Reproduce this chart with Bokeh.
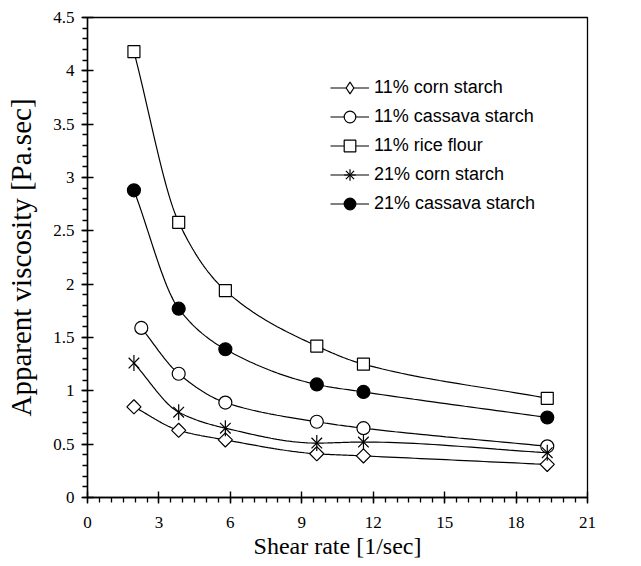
import numpy as np
from bokeh.plotting import figure
from bokeh.models import Range1d, FixedTicker, Legend, LegendItem
from bokeh.embed import file_html
from bokeh.resources import INLINE

# ---- data ----
shear = [1.95, 3.83, 5.79, 9.63, 11.59, 19.31]
shear_cassava11 = [2.26, 3.83, 5.79, 9.63, 11.59, 19.31]
corn11 = [0.85, 0.63, 0.54, 0.41, 0.39, 0.31]
cassava11 = [1.59, 1.16, 0.89, 0.71, 0.65, 0.48]
rice11 = [4.18, 2.58, 1.94, 1.42, 1.25, 0.93]
corn21 = [1.26, 0.80, 0.65, 0.51, 0.52, 0.42]
cassava21 = [2.88, 1.77, 1.39, 1.06, 0.99, 0.75]

labels = ["11% corn starch", "11% cassava starch", "11% rice flour",
          "21% corn starch", "21% cassava starch"]
x_ticks = [0, 3, 6, 9, 12, 15, 18, 21]
y_ticks = [0, 0.5, 1, 1.5, 2, 2.5, 3, 3.5, 4, 4.5]
y_tick_labels = ["0", "0.5", "1", "1.5", "2", "2.5", "3", "3.5", "4", "4.5"]


def smooth(x, y, n=30):
    """Monotone cubic (PCHIP) curve through the data points, for drawing."""
    x = np.asarray(x, float)
    y = np.asarray(y, float)
    h = np.diff(x)
    delta = np.diff(y) / h
    d = np.zeros_like(y)
    for k in range(1, len(x) - 1):
        if delta[k - 1] * delta[k] <= 0:
            d[k] = 0.0
        else:
            w1 = 2 * h[k] + h[k - 1]
            w2 = h[k] + 2 * h[k - 1]
            d[k] = (w1 + w2) / (w1 / delta[k - 1] + w2 / delta[k])
    d[0] = delta[0]
    d[-1] = delta[-1]
    xs, ys = [], []
    for k in range(len(x) - 1):
        t = np.linspace(0, 1, n, endpoint=(k == len(x) - 2))
        h00 = 2 * t**3 - 3 * t**2 + 1
        h10 = t**3 - 2 * t**2 + t
        h01 = -2 * t**3 + 3 * t**2
        h11 = t**3 - t**2
        xs.extend(x[k] + t * h[k])
        ys.extend(h00 * y[k] + h10 * h[k] * d[k] + h01 * y[k + 1] + h11 * h[k] * d[k + 1])
    return xs, ys


p = figure(width=641, height=566, output_backend="svg", toolbar_location=None,
           x_range=Range1d(0, 21), y_range=Range1d(0, 4.5),
           min_border_left=87, min_border_top=17, min_border_right=54, min_border_bottom=69)

p.background_fill_color = "white"
p.border_fill_color = "white"
p.outline_line_color = "black"
p.outline_line_width = 1.3
p.grid.visible = False

serif = "Liberation Serif"
p.xaxis.ticker = FixedTicker(ticks=x_ticks, minor_ticks=list(np.arange(0, 21.01, 0.5)))
p.yaxis.ticker = FixedTicker(ticks=y_ticks, minor_ticks=list(np.arange(0, 4.501, 0.1)))
p.yaxis.major_label_overrides = {t: l for t, l in zip(y_ticks, y_tick_labels)}
for ax in (p.xaxis, p.yaxis):
    ax.axis_line_color = "black"
    ax.axis_line_width = 1.4
    ax.major_tick_line_color = "black"
    ax.major_tick_line_width = 1.4
    ax.minor_tick_line_color = "black"
    ax.minor_tick_line_width = 1.3
    ax.major_tick_in = 6
    ax.major_tick_out = 6
    ax.minor_tick_in = 0
    ax.minor_tick_out = 5
    ax.major_label_text_font = serif
    ax.major_label_text_font_size = "17px"
    ax.major_label_text_color = "black"
    ax.axis_label_text_font = serif
    ax.axis_label_text_font_style = "normal"
    ax.axis_label_text_color = "black"

p.xaxis.axis_label = "Shear rate [1/sec]"
p.yaxis.axis_label = "Apparent viscosity [Pa.sec]"
p.xaxis.axis_label_text_font_size = "24px"
p.yaxis.axis_label_text_font_size = "29px"
p.xaxis.major_label_standoff = 13
p.yaxis.major_label_standoff = 7
p.xaxis.axis_label_standoff = 2
p.yaxis.axis_label_standoff = 13

lw = 1.2
items = []

# 11% corn starch (diamond)
xs, ys = smooth(shear, corn11)
l1 = p.line(xs, ys, line_color="black", line_width=lw)
m1 = p.scatter(shear, corn11, marker="square", angle=np.pi / 4, size=10,
               fill_color="white", line_color="black", line_width=lw)
k1 = p.scatter(shear, corn11, marker="diamond", size=14, visible=False,
               fill_color="white", line_color="black", line_width=lw)
items.append(LegendItem(label=labels[0], renderers=[l1, k1]))

# 11% cassava starch (open circle)
xs, ys = smooth(shear_cassava11, cassava11)
l2 = p.line(xs, ys, line_color="black", line_width=lw)
m2 = p.scatter(shear_cassava11, cassava11, marker="circle", size=13,
               fill_color="white", line_color="black", line_width=lw)
items.append(LegendItem(label=labels[1], renderers=[l2, m2]))

# 11% rice flour (square)
xs, ys = smooth(shear, rice11)
l3 = p.line(xs, ys, line_color="black", line_width=lw)
m3 = p.scatter(shear, rice11, marker="square", size=12,
               fill_color="white", line_color="black", line_width=lw)
items.append(LegendItem(label=labels[2], renderers=[l3, m3]))

# 21% corn starch (asterisk: X plus vertical bar)
xs, ys = smooth(shear, corn21)
l4 = p.line(xs, ys, line_color="black", line_width=lw)
m4a = p.scatter(shear, corn21, marker="x", size=15, line_color="black", line_width=lw)
m4b = p.scatter(shear, corn21, marker="dash", angle=np.pi / 2, size=16,
                line_color="black", line_width=lw)
k4 = p.scatter(shear, corn21, marker="cross", size=15, visible=False,
               line_color="black", line_width=lw)
items.append(LegendItem(label=labels[3], renderers=[l4, m4a, k4]))

# 21% cassava starch (filled circle)
xs, ys = smooth(shear, cassava21)
l5 = p.line(xs, ys, line_color="black", line_width=lw)
m5 = p.scatter(shear, cassava21, marker="circle", size=13,
               fill_color="black", line_color="black", line_width=lw)
items.append(LegendItem(label=labels[4], renderers=[l5, m5]))

legend = Legend(items=items, location=(243, 279), padding=0, margin=0,
                spacing=0, glyph_width=39, glyph_height=29, label_standoff=5,
                label_text_font="Liberation Sans", label_text_font_size="18px",
                label_text_color="black", border_line_color=None,
                background_fill_alpha=0)
p.add_layout(legend, "center")

open("out.html", "w").write(file_html(p, INLINE))
